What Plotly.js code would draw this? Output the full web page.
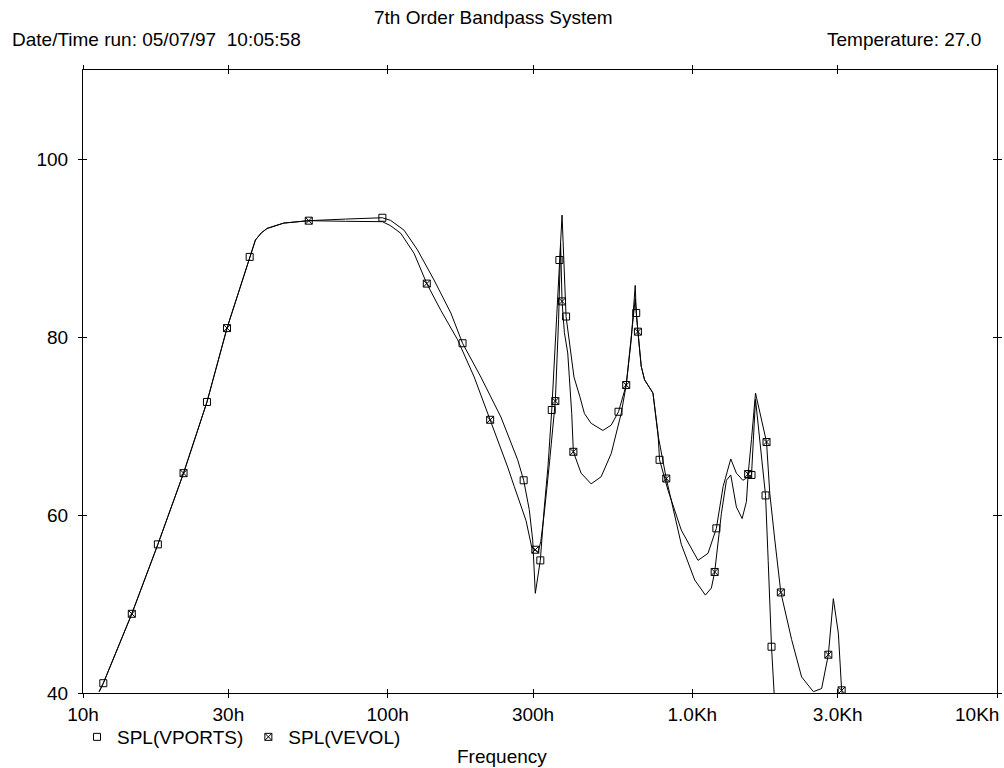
<!DOCTYPE html>
<html>
<head>
<meta charset="utf-8">
<script src="https://cdn.plot.ly/plotly-3.0.1.min.js"></script>
<style>html,body{margin:0;padding:0;background:#fff;}#chart{width:1004px;height:768px;}</style>
</head>
<body>
<div id="chart"></div>
<script>
// ---- data ----
var tickFreqs = [10, 30, 100, 300, 1000, 3000, 10000];
var tickLabels = ['10h', '30h', '100h', '300h', '1.0Kh', '3.0Kh', '10Kh'];
var splTicks = [40, 60, 80, 100];

var vportsFreq = [11.3, 11.66, 14.46, 17.61, 21.38, 25.52, 29.70, 35.24, 36.81, 38.5, 40.21, 45.6, 55.09, 72.7, 96.07, 102.3, 113.2, 125.2, 142.0, 161.2, 176.1, 202.3, 235.4, 267.1, 279.5, 291.6, 299.2, 305.2, 311.5, 317.0, 326.0, 336.0, 345.6, 355.1, 366.1, 373.6, 385.1, 396.6, 408.8, 427.4, 442.4, 465.4, 508.6, 541.6, 572.4, 606.7, 630.1, 649.5, 654.4, 662.9, 679.6, 696.8, 742.6, 771.4, 780.6, 831.8, 919.9, 1044, 1126, 1199, 1262, 1337, 1395, 1465, 1543, 1564, 1612, 1630, 1739, 1774, 1819, 1857];
var vportsSpl = [40.15, 41.1, 48.9, 56.7, 64.7, 72.7, 81.0, 89.0, 90.9, 91.7, 92.2, 92.8, 93.07, 93.25, 93.4, 93.1, 92.0, 89.8, 86.4, 82.7, 79.3, 75.5, 71.0, 66.2, 63.9, 60.6, 57.2, 51.2, 53.5, 54.9, 60.5, 65.5, 71.8, 79.5, 88.65, 93.7, 82.3, 78.9, 75.5, 73.3, 71.4, 70.3, 69.5, 70.1, 71.6, 74.6, 79.7, 85.8, 82.7, 80.6, 76.7, 75.2, 73.7, 69.2, 66.2, 62.8, 58.3, 54.9, 55.7, 58.5, 63.2, 66.3, 64.7, 63.9, 64.4, 64.5, 73.0, 71.5, 62.2, 54.9, 45.2, 39.8];

var vevolFreq = [11.3, 11.66, 14.46, 17.61, 21.38, 25.52, 29.70, 35.24, 36.81, 38.5, 40.21, 45.6, 55.09, 72.7, 96.07, 102.3, 110.4, 122.1, 134.4, 149.4, 169.6, 192.3, 217.0, 235.4, 247.6, 260.3, 284.4, 297.0, 305.2, 311.5, 318.0, 326.6, 340.0, 355.1, 364.0, 369.5, 373.6, 380.2, 390.0, 401.9, 406.9, 431.4, 465.4, 502.1, 541.6, 584.0, 606.7, 630.1, 649.5, 662.9, 679.6, 696.8, 742.6, 771.4, 821.3, 920, 1018, 1104, 1155, 1184, 1246, 1294, 1337, 1395, 1457, 1505, 1525, 1564, 1612, 1752, 1796, 1865, 1952, 2118, 2284, 2496, 2657, 2795, 2903, 3015, 3091, 3125];
var vevolSpl = [40.15, 41.1, 48.9, 56.7, 64.7, 72.7, 81.0, 89.0, 90.9, 91.7, 92.2, 92.8, 93.07, 93.0, 92.96, 92.5, 91.65, 89.4, 86.0, 83.0, 79.7, 75.5, 70.7, 67.4, 65.4, 63.2, 59.4, 56.4, 56.1, 55.8, 57.0, 60.2, 66.0, 72.8, 82.0, 90.5, 84.0, 80.5, 78.2, 71.4, 67.1, 64.7, 63.5, 64.3, 66.9, 71.4, 74.6, 80.0, 84.3, 80.6, 76.7, 75.2, 73.7, 69.0, 64.1, 56.7, 52.7, 51.0, 51.8, 53.6, 60.2, 63.9, 64.5, 60.9, 59.6, 61.5, 64.6, 68.5, 73.7, 68.2, 62.4, 57.2, 51.3, 46.0, 41.8, 40.15, 40.5, 44.3, 50.6, 46.7, 40.3, 39.5];

var vportsMarkFreq = [11.66, 17.61, 25.52, 35.24, 96.07, 176.1, 279.5, 317.0, 345.6, 366.1, 385.1, 572.4, 654.4, 780.6, 1199, 1564, 1739, 1819];
var vportsMarkSpl = [41.1, 56.7, 72.7, 89.0, 93.4, 79.3, 63.9, 54.9, 71.8, 88.65, 82.3, 71.6, 82.7, 66.2, 58.5, 64.5, 62.2, 45.2];
var vevolMarkFreq = [14.46, 21.38, 29.70, 55.09, 134.4, 217.0, 305.2, 355.1, 373.6, 406.9, 606.7, 662.9, 821.3, 1184, 1525, 1752, 1952, 2795, 3091];
var vevolMarkSpl = [48.9, 64.7, 81.0, 93.07, 86.0, 70.7, 56.1, 72.8, 84.0, 67.1, 74.6, 80.6, 64.1, 53.6, 64.6, 68.2, 51.3, 44.3, 40.3];

var chartTitle = '7th Order Bandpass System';
var runText = 'Date/Time run: 05/07/97\u00a0 10:05:58';
var tempText = 'Temperature: 27.0';
var xTitle = 'Frequency';
var seriesNames = ['SPL(VPORTS)', 'SPL(VEVOL)'];

// ---- drawing ----
var FONT = 'Liberation Sans, Arial, sans-serif';
var FS = 19;
var lineStyle = {color: '#000', width: 1};

var traces = [
  {x: vportsFreq, y: vportsSpl, mode: 'lines', line: lineStyle, showlegend: false, hoverinfo: 'skip'},
  {x: vevolFreq, y: vevolSpl, mode: 'lines', line: lineStyle, showlegend: false, hoverinfo: 'skip'},
  {x: vportsMarkFreq, y: vportsMarkSpl, mode: 'markers', name: seriesNames[0],
   marker: {symbol: 'square-open', size: 7, color: '#000', line: {width: 1, color: '#000'}}},
  {x: vevolMarkFreq, y: vevolMarkSpl, mode: 'markers', name: seriesNames[1],
   marker: {symbol: 'square-x-open', size: 7, color: '#000', line: {width: 1, color: '#000'}}},
  {x: [], y: [], xaxis: 'x2', yaxis: 'y2', showlegend: false, hoverinfo: 'skip'}
];

var L = 83, R = 7, T = 70, B = 75;
var W = 1004 - L - R, H = 768 - T - B;
function px(x) { return (x - L) / W; }
function py(y) { return (768 - B - y) / H; }

// the last tick label sits at the right edge of the page: drawn as an annotation so it is not hidden
var shownTickText = tickLabels.slice(0, -1).concat(['']);

var layout = {
  width: 1004, height: 768,
  margin: {l: L, r: R, t: T, b: B},
  paper_bgcolor: '#fff', plot_bgcolor: '#fff',
  font: {family: FONT, size: FS, color: '#000'},
  showlegend: true,
  legend: {orientation: 'h', x: px(77), xanchor: 'left', y: py(737), yanchor: 'middle',
           font: {family: FONT, size: FS, color: '#000'}, bgcolor: 'rgba(0,0,0,0)', itemwidth: 30},
  xaxis: {type: 'log', range: [1, 4], tickvals: tickFreqs, ticktext: shownTickText,
          showgrid: false, zeroline: false, showline: true, linecolor: '#000', linewidth: 1,
          mirror: 'ticks', ticks: 'outside', ticklen: 4, tickcolor: '#000', tickwidth: 1,
          tickfont: {family: FONT, size: FS, color: '#000'}},
  yaxis: {range: [40, 110], tickvals: splTicks, showgrid: false, zeroline: false,
          showline: true, linecolor: '#000', linewidth: 1, mirror: 'ticks', ticks: 'outside',
          ticklen: 4, tickcolor: '#000', tickwidth: 1, ticklabelstandoff: 6,
          tickfont: {family: FONT, size: FS, color: '#000'}},
  xaxis2: {type: 'log', range: [1, 4], tickvals: tickFreqs, overlaying: 'x', anchor: 'y2',
           showticklabels: false, showgrid: false, zeroline: false, showline: false,
           mirror: 'ticks', ticks: 'inside', ticklen: 4, tickcolor: '#000', tickwidth: 1},
  yaxis2: {range: [40, 110], tickvals: splTicks, overlaying: 'y', anchor: 'x2',
           showticklabels: false, showgrid: false, zeroline: false, showline: false,
           mirror: 'ticks', ticks: 'inside', ticklen: 4, tickcolor: '#000', tickwidth: 1},
  annotations: [
    {text: chartTitle, xref: 'paper', yref: 'paper', x: px(493), y: py(18), xanchor: 'center', yanchor: 'middle', showarrow: false},
    {text: runText, xref: 'paper', yref: 'paper', x: px(10), y: py(40), xanchor: 'left', yanchor: 'middle', showarrow: false},
    {text: tempText, xref: 'paper', yref: 'paper', x: px(983), y: py(40), xanchor: 'right', yanchor: 'middle', showarrow: false},
    {text: xTitle, xref: 'paper', yref: 'paper', x: px(502), y: py(756), xanchor: 'center', yanchor: 'middle', showarrow: false},
    {text: tickLabels[tickLabels.length - 1], xref: 'paper', yref: 'paper', x: px(1001), y: py(714), xanchor: 'right', yanchor: 'middle', showarrow: false}
  ]
};

Plotly.newPlot('chart', traces, layout, {staticPlot: true, displayModeBar: false});
</script>
</body>
</html>
